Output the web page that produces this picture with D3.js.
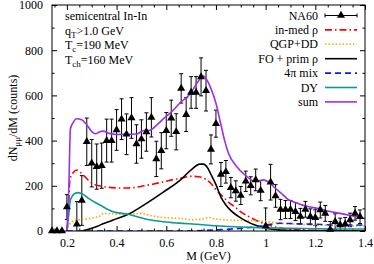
<!DOCTYPE html>
<html>
<head>
<meta charset="utf-8">
<script src="https://cdn.jsdelivr.net/npm/d3@7"></script>
<style>
  body { margin: 0; background: #fff; }
  text { font-family: "Liberation Serif", "DejaVu Serif", serif; font-size: 12px; fill: #000; }
</style>
</head>
<body>
<svg id="chart" width="374" height="264"></svg>
<script>
// NA60 data points
const naM = [0.14, 0.16, 0.18, 0.20, 0.24, 0.26, 0.28, 0.30, 0.32, 0.34, 0.36, 0.38, 0.40, 0.42, 0.44, 0.46, 0.48, 0.50,
  0.52, 0.54, 0.56, 0.58, 0.60, 0.62, 0.64, 0.66, 0.68, 0.70, 0.72, 0.74, 0.76, 0.78, 0.80, 0.82, 0.84, 0.86, 0.88,
  0.90, 0.92, 0.94, 0.96, 0.98, 1.00, 1.02, 1.04, 1.06, 1.08, 1.10, 1.12, 1.14, 1.16, 1.18, 1.20, 1.22, 1.24, 1.26,
  1.28, 1.30, 1.32, 1.34, 1.36, 1.38];
const naY = [0, 0, 0, 106, 30, 135, 395, 300, 285, 289, 400, 400, 447, 495, 428, 500, 385, 407,
  438, 503, 319, 355, 444, 499, 439, 631, 515, 613, 613, 682, 621, 361, 475, 250, 262, 192, 177,
  157, 220, 200, 226, 179, 22, 216, 155, 95, 95, 95, 86, 65, 96, 63, 59, 93, 78, 7,
  41, 27, 30, 49, 78, 63];
const naErr = [0, 0, 0, 55, 100, 110, 105, 105, 100, 100, 95, 95, 90, 90, 90, 90, 85, 85,
  85, 87, 78, 80, 80, 80, 80, 65, 75, 70, 70, 84, 90, 64, 60, 53, 50, 45, 45,
  40, 45, 40, 48, 45, 80, 79, 50, 45, 40, 40, 40, 35, 35, 35, 35, 35, 35, 35,
  35, 30, 30, 30, 30, 30];

// model curves
const rhoM = [0.200, 0.205, 0.212, 0.225, 0.24, 0.255, 0.27, 0.30, 0.33, 0.37, 0.42, 0.47, 0.51, 0.55, 0.59, 0.63,
  0.66, 0.70, 0.73, 0.76, 0.78, 0.80, 0.83, 0.85, 0.88, 0.90, 0.93, 0.96, 1.01, 1.06, 1.12, 1.20, 1.30, 1.40];
const rhoY = [0, 60, 226, 258, 270, 258, 243, 212, 200, 193, 190, 192, 200, 208, 218, 228,
  234, 242, 240, 228, 210, 183, 150, 128, 103, 85, 65, 48, 27, 13, 6, 3, 1, 0];

const qgpM = [0.200, 0.21, 0.23, 0.25, 0.272, 0.30, 0.333, 0.347, 0.38, 0.413, 0.45, 0.50, 0.53, 0.565, 0.62, 0.655,
  0.70, 0.74, 0.77, 0.79, 0.85, 0.92, 1.00, 1.05, 1.10, 1.20, 1.30, 1.40];
const qgpY = [0, 30, 45, 50, 52, 58, 66, 78, 76, 74, 74, 78, 70, 63, 57, 56,
  50, 52, 60, 55, 48, 46, 42, 36, 32, 27, 24, 22];

const foM = [0.26, 0.30, 0.333, 0.386, 0.447, 0.52, 0.588, 0.655, 0.70, 0.735, 0.75, 0.765, 0.78,
  0.80, 0.82, 0.84, 0.86, 0.89, 0.92, 0.96, 1.00, 1.06, 1.15, 1.40];
const foY = [0, 12, 26, 49, 74, 122, 172, 224, 270, 296, 296, 282, 250,
  205, 150, 115, 90, 65, 45, 25, 12, 4, 1, 0];

const mixM = [0.20, 0.65, 0.72, 0.79, 0.85, 0.90, 0.95, 0.98, 1.02, 1.06, 1.10, 1.20, 1.30, 1.40];
const mixY = [0, 0, 1, 4, 8, 12, 17, 22, 30, 34, 33, 30, 26, 27];

const dyM = [0.200, 0.207, 0.215, 0.23, 0.245, 0.265, 0.29, 0.333, 0.386, 0.447, 0.52, 0.588, 0.65, 0.72,
  0.80, 0.90, 1.00, 1.10, 1.20, 1.30, 1.40];
const dyY = [0, 70, 140, 165, 170, 162, 142, 115, 85, 74, 52, 41, 35, 30,
  23, 18, 14, 12, 10, 9, 9];

const sumM = [0.200, 0.208, 0.214, 0.225, 0.24, 0.26, 0.28, 0.30, 0.315, 0.33, 0.345, 0.37, 0.40, 0.44, 0.48, 0.51,
  0.53, 0.56, 0.59, 0.62, 0.66, 0.69, 0.71, 0.73, 0.75, 0.765, 0.78, 0.80, 0.82, 0.835, 0.85, 0.88, 0.92, 0.95,
  0.97, 0.99, 1.01, 1.04, 1.06, 1.09, 1.13, 1.17, 1.21, 1.26, 1.30, 1.36, 1.40];
const sumY = [0, 200, 451, 480, 497, 492, 470, 440, 430, 438, 442, 432, 427, 428, 429, 445,
  445, 467, 498, 526, 572, 600, 630, 665, 686, 665, 630, 565, 470, 400, 345, 290, 245, 222,
  220, 226, 218, 188, 170, 140, 122, 108, 100, 86, 78, 64, 55];

const xTicks = [0.2, 0.4, 0.6, 0.8, 1.0, 1.2, 1.4];
const xTickLabels = ["0.2", "0.4", "0.6", "0.8", "1", "1.2", "1.4"];
const yTicks = [0, 200, 400, 600, 800, 1000];
const yMinor = [100, 300, 500, 700, 900];

const svg = d3.select("#chart");
const margin = { top: 5, right: 9, bottom: 33, left: 52 };
const width = 374 - margin.left - margin.right;
const height = 264 - margin.top - margin.bottom;

const x = d3.scaleLinear().domain([0.14, 1.4]).range([margin.left, margin.left + width]);
const y = d3.scaleLinear().domain([0, 1000]).range([margin.top + height, margin.top]);

svg.append("defs").append("clipPath").attr("id", "clip")
  .append("rect").attr("x", margin.left).attr("y", margin.top).attr("width", width).attr("height", height);

const xMinor = d3.range(0.15, 1.4, 0.05).filter(v => Math.abs(v * 5 - Math.round(v * 5)) > 0.01);

// Axes (gnuplot style, ticks inward on all sides)
const axisStyle = (g) => {
  g.select(".domain").remove();
  g.selectAll("line").attr("stroke", "#000");
  g.selectAll("text").attr("font-size", 12).attr("font-family", "Liberation Serif, serif");
};
svg.append("g")
  .attr("transform", `translate(0,${margin.top + height})`)
  .call(d3.axisBottom(x).tickValues(xTicks).tickSize(-5).tickPadding(7)
    .tickFormat((d, i) => xTickLabels[i]))
  .call(axisStyle);
svg.append("g")
  .attr("transform", `translate(0,${margin.top + height})`)
  .call(d3.axisBottom(x).tickValues(xMinor).tickSize(-2.5).tickFormat(""))
  .call(axisStyle);
svg.append("g")
  .attr("transform", `translate(0,${margin.top})`)
  .call(d3.axisTop(x).tickValues(xTicks).tickSize(-5).tickFormat(""))
  .call(axisStyle);
svg.append("g")
  .attr("transform", `translate(0,${margin.top})`)
  .call(d3.axisTop(x).tickValues(xMinor).tickSize(-2.5).tickFormat(""))
  .call(axisStyle);
svg.append("g")
  .attr("transform", `translate(${margin.left},0)`)
  .call(d3.axisLeft(y).tickValues(yTicks).tickSize(-5).tickPadding(9).tickFormat(d3.format("d")))
  .call(axisStyle);
svg.append("g")
  .attr("transform", `translate(${margin.left},0)`)
  .call(d3.axisLeft(y).tickValues(yMinor).tickSize(-2.5).tickFormat(""))
  .call(axisStyle);
svg.append("g")
  .attr("transform", `translate(${margin.left + width},0)`)
  .call(d3.axisRight(y).tickValues(yTicks).tickSize(-5).tickFormat(""))
  .call(axisStyle);
svg.append("g")
  .attr("transform", `translate(${margin.left + width},0)`)
  .call(d3.axisRight(y).tickValues(yMinor).tickSize(-2.5).tickFormat(""))
  .call(axisStyle);

const layer = svg.append("g").attr("clip-path", "url(#clip)");

// NA60 points with error bars
const na = naM.map((m, i) => ({ m, v: naY[i], e: naErr[i] }));
const bars = layer.selectAll(".bar").data(na.filter(d => d.e > 0)).enter().append("g");
bars.append("line")
  .attr("x1", d => x(d.m)).attr("x2", d => x(d.m))
  .attr("y1", d => y(d.v - d.e)).attr("y2", d => y(d.v + d.e))
  .attr("stroke", "#000").attr("stroke-width", 1);
bars.append("line")
  .attr("x1", d => x(d.m) - 2).attr("x2", d => x(d.m) + 2)
  .attr("y1", d => y(d.v + d.e)).attr("y2", d => y(d.v + d.e))
  .attr("stroke", "#000").attr("stroke-width", 1);
bars.append("line")
  .attr("x1", d => x(d.m) - 2).attr("x2", d => x(d.m) + 2)
  .attr("y1", d => y(d.v - d.e)).attr("y2", d => y(d.v - d.e))
  .attr("stroke", "#000").attr("stroke-width", 1);
const tri = d3.symbol().type(d3.symbolTriangle).size(28);
svg.append("g").selectAll("path").data(na).enter().append("path")
  .attr("d", tri)
  .attr("transform", d => `translate(${x(d.m)},${y(d.v)})`)
  .attr("fill", "#000");

// model curves
const curves = [
  { name: "in-med ρ", m: rhoM, v: rhoY, color: "#ff0000", dash: "7,3,1.5,3" },
  { name: "QGP+DD", m: qgpM, v: qgpY, color: "#ffa500", dash: "1.5,2" },
  { name: "FO + prim ρ", m: foM, v: foY, color: "#000000", dash: null },
  { name: "4π mix", m: mixM, v: mixY, color: "#0a1ee0", dash: "6,4" },
  { name: "DY", m: dyM, v: dyY, color: "#0a9a9a", dash: null },
  { name: "sum", m: sumM, v: sumY, color: "#9b30e8", dash: null },
];
const line = d3.line().x(d => x(d[0])).y(d => y(d[1])).curve(d3.curveMonotoneX);
curves.forEach(c => {
  layer.append("path")
    .attr("d", line(c.m.map((m, i) => [m, c.v[i]])))
    .attr("fill", "none")
    .attr("stroke", c.color)
    .attr("stroke-width", 1.6)
    .attr("stroke-dasharray", c.dash);
});

// frame
svg.append("rect")
  .attr("x", margin.left).attr("y", margin.top).attr("width", width).attr("height", height)
  .attr("fill", "none").attr("stroke", "#000").attr("stroke-width", 1);

// legend
const legX = 318, legY0 = 15.5, legDy = 14.4, s0 = 325, s1 = 357;
const leg = svg.append("g");
leg.append("text").attr("x", legX).attr("y", legY0 + 4).attr("text-anchor", "end").text("NA60");
leg.append("line").attr("x1", s0).attr("x2", s1).attr("y1", legY0).attr("y2", legY0).attr("stroke", "#000");
[s0, s1].forEach(sx => leg.append("line").attr("x1", sx).attr("x2", sx)
  .attr("y1", legY0 - 2).attr("y2", legY0 + 2).attr("stroke", "#000"));
leg.append("path").attr("d", tri).attr("transform", `translate(${(s0 + s1) / 2},${legY0})`).attr("fill", "#000");
curves.forEach((c, i) => {
  const ly = legY0 + legDy * (i + 1);
  leg.append("text").attr("x", legX).attr("y", ly + 4).attr("text-anchor", "end").text(c.name);
  leg.append("line").attr("x1", s0).attr("x2", s1).attr("y1", ly).attr("y2", ly)
    .attr("stroke", c.color).attr("stroke-width", 1.6).attr("stroke-dasharray", c.dash);
});

// annotation text
const ann = svg.append("g");
ann.append("text").attr("x", 65).attr("y", 20).text("semicentral In-In");
const t2 = ann.append("text").attr("x", 65).attr("y", 34.5);
t2.append("tspan").text("q");
t2.append("tspan").attr("dy", 3).attr("font-size", 9).text("T");
t2.append("tspan").attr("dy", -3).text(">1.0 GeV");
const t3 = ann.append("text").attr("x", 65).attr("y", 49);
t3.append("tspan").text("T");
t3.append("tspan").attr("dy", 3).attr("font-size", 9).text("c");
t3.append("tspan").attr("dy", -3).text("=190 MeV");
const t4 = ann.append("text").attr("x", 65).attr("y", 63.5);
t4.append("tspan").text("T");
t4.append("tspan").attr("dy", 3).attr("font-size", 9).text("ch");
t4.append("tspan").attr("dy", -3).text("=160 MeV");

// axis labels
svg.append("text").attr("x", margin.left + width / 2).attr("y", 260).attr("text-anchor", "middle").text("M (GeV)");
const yl = svg.append("text").attr("transform", `translate(17,${margin.top + height / 2}) rotate(-90)`)
  .attr("text-anchor", "middle");
yl.append("tspan").text("dN");
yl.append("tspan").attr("dy", 3).attr("font-size", 9).text("μμ");
yl.append("tspan").attr("dy", -3).text("/dM (counts)");
</script>
</body>
</html>
